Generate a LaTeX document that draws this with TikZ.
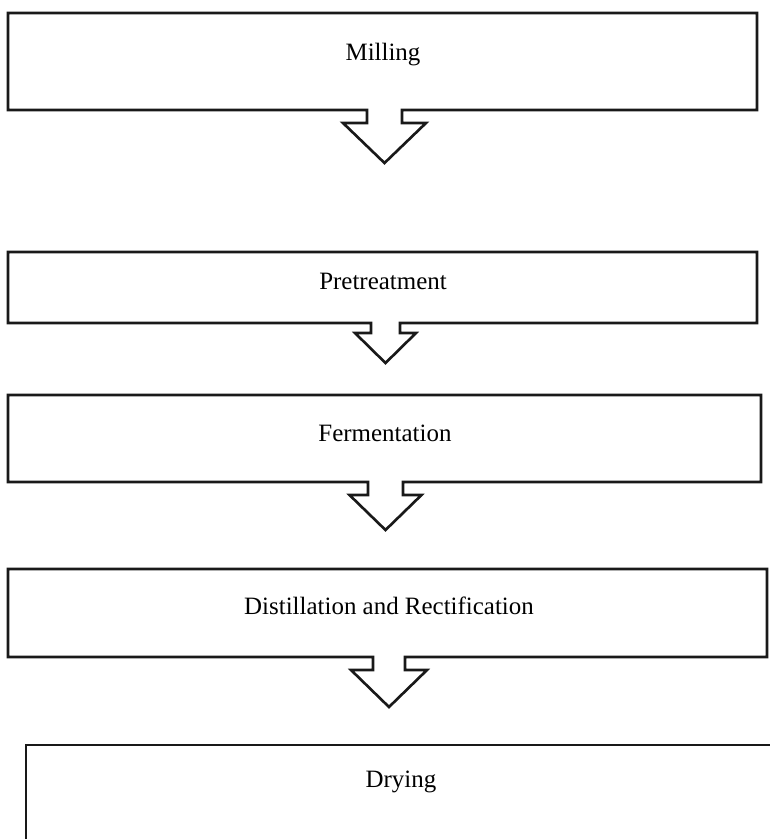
\documentclass[tikz,border=0pt]{standalone}
\usepackage{fontspec}
\setmainfont{Liberation Serif}
\begin{document}
\begin{tikzpicture}[x=0.02cm, y=-0.02cm,
  kasten/.style={draw=black!90, line width=1.5pt, line join=miter},
  schritt/.style={font=\fontsize{14.2}{17}\selectfont}]
  \useasboundingbox (0,0) rectangle (770,839);
  \clip (0,0) rectangle (770,839);
  % Kasten 1 mit Pfeil
  \draw[kasten] (8,13) -- (757,13) -- (757,110) -- (402,110) -- (402,123) -- (426,123)
    -- (384.5,163) -- (343,123) -- (367,123) -- (367,110) -- (8,110) -- cycle;
  \node[schritt] (milling) at (383,55) {Milling};
  % Kasten 2 mit Pfeil
  \draw[kasten] (8,252) -- (757,252) -- (757,323) -- (400,323) -- (400,333) -- (416,333)
    -- (385.5,363) -- (355,333) -- (371,333) -- (371,323) -- (8,323) -- cycle;
  \node[schritt] (pretreat) at (383,281) {Pretreatment};
  % Kasten 3 mit Pfeil
  \draw[kasten] (8,395) -- (761,395) -- (761,482) -- (403,482) -- (403,495) -- (421.5,495)
    -- (385.5,530) -- (349.5,495) -- (368,495) -- (368,482) -- (8,482) -- cycle;
  \node[schritt] (ferment) at (385,433) {Fermentation};
  % Kasten 4 mit Pfeil
  \draw[kasten] (8,569) -- (767,569) -- (767,657) -- (405,657) -- (405,670) -- (427,670)
    -- (389,707) -- (351,670) -- (373,670) -- (373,657) -- (8,657) -- cycle;
  \node[schritt] (distill) at (389,606) {Distillation and Rectification};
  % Kasten 5 (angeschnitten)
  \draw[kasten] (26,745) rectangle (790,870);
  \node[schritt] (drying) at (401,782) {Drying};
\end{tikzpicture}
\end{document}
